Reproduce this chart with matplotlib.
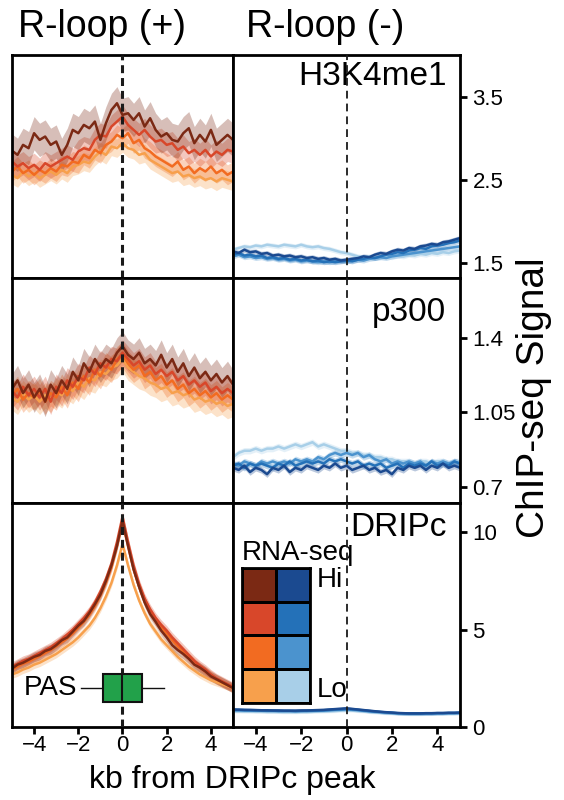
import numpy as np
import matplotlib.pyplot as plt
from matplotlib.colors import ListedColormap

plt.rcParams['font.family'] = ['Liberation Sans', 'DejaVu Sans']

# position relative to DRIPc peak (kb)
kb = np.linspace(-5, 5, 41)

levels = ['Hi', 'Lo']
pos_colors = ['#7b2914', '#d8472a', '#f26b21', '#f7a04c']   # RNA-seq Hi -> Lo
neg_colors = ['#1b4a90', '#2471b8', '#4b93ce', '#a8cfe8']

col_titles = ['R-loop (+)', 'R-loop (-)']
marks = ['H3K4me1', 'p300', 'DRIPc']
ylims = [(1.32, 4.0), (0.625, 1.68), (0, 11.5)]
yticks = [[1.5, 2.5, 3.5], [0.7, 1.05, 1.4], [0, 5, 10]]
ytick_labels = [['1.5', '2.5', '3.5'], ['0.7', '1.05', '1.4'], ['0', '5', '10']]
xticks = [-4, -2, 0, 2, 4]

# H3K4me1, R-loop (+)
h3_pos = [
    [2.85, 2.80, 2.92, 2.88, 3.06, 2.98, 3.02, 2.92, 2.96, 2.80, 2.92, 3.10, 3.06, 3.16, 3.12, 3.20, 2.98, 3.18, 3.34, 3.42, 3.28,
     3.30, 3.22, 3.30, 3.14, 3.24, 3.10, 3.02, 3.06, 2.98, 2.96, 3.06, 3.12, 2.94, 3.04, 2.96, 3.10, 2.92, 2.98, 3.04, 2.98],
    [2.72, 2.66, 2.70, 2.64, 2.68, 2.62, 2.70, 2.66, 2.70, 2.74, 2.78, 2.74, 2.84, 2.88, 2.86, 2.98, 3.04, 3.02, 3.14, 3.20, 3.26,
     3.16, 3.10, 3.04, 3.10, 3.02, 2.96, 2.98, 2.92, 2.94, 2.86, 2.90, 2.82, 2.86, 2.80, 2.86, 2.78, 2.84, 2.80, 2.86, 2.84],
    [2.60, 2.66, 2.58, 2.62, 2.56, 2.62, 2.58, 2.64, 2.60, 2.68, 2.66, 2.72, 2.70, 2.80, 2.76, 2.86, 2.82, 2.92, 2.96, 3.04, 3.00,
     3.06, 2.94, 2.98, 2.88, 2.84, 2.78, 2.74, 2.70, 2.66, 2.72, 2.62, 2.66, 2.58, 2.64, 2.60, 2.66, 2.58, 2.62, 2.56, 2.60],
    [2.56, 2.52, 2.60, 2.54, 2.58, 2.52, 2.56, 2.60, 2.56, 2.62, 2.58, 2.66, 2.68, 2.72, 2.70, 2.78, 2.84, 2.80, 2.90, 2.88, 2.94,
     2.88, 2.86, 2.80, 2.82, 2.74, 2.70, 2.66, 2.62, 2.58, 2.60, 2.54, 2.56, 2.52, 2.54, 2.50, 2.52, 2.48, 2.52, 2.50, 2.48],
]
# H3K4me1, R-loop (-)
h3_neg = [
    [1.64, 1.62, 1.66, 1.63, 1.64, 1.61, 1.62, 1.59, 1.60, 1.58, 1.59, 1.57, 1.58, 1.56, 1.57, 1.55, 1.56, 1.54, 1.55, 1.53, 1.54,
     1.55, 1.56, 1.58, 1.57, 1.60, 1.62, 1.61, 1.64, 1.66, 1.65, 1.68, 1.67, 1.70, 1.71, 1.73, 1.72, 1.75, 1.76, 1.78, 1.80],
    [1.60, 1.62, 1.59, 1.60, 1.58, 1.59, 1.56, 1.57, 1.55, 1.56, 1.54, 1.55, 1.53, 1.54, 1.52, 1.53, 1.51, 1.52, 1.51, 1.52, 1.53,
     1.52, 1.54, 1.55, 1.57, 1.56, 1.58, 1.60, 1.61, 1.63, 1.62, 1.65, 1.66, 1.68, 1.67, 1.70, 1.71, 1.72, 1.74, 1.75, 1.77],
    [1.58, 1.60, 1.57, 1.58, 1.56, 1.57, 1.55, 1.56, 1.54, 1.55, 1.53, 1.54, 1.52, 1.53, 1.52, 1.51, 1.52, 1.51, 1.52, 1.53, 1.52,
     1.53, 1.54, 1.53, 1.55, 1.56, 1.57, 1.56, 1.58, 1.59, 1.60, 1.61, 1.62, 1.63, 1.64, 1.65, 1.66, 1.67, 1.68, 1.69, 1.70],
    [1.66, 1.68, 1.70, 1.69, 1.71, 1.70, 1.72, 1.71, 1.70, 1.72, 1.71, 1.70, 1.72, 1.70, 1.69, 1.70, 1.68, 1.67, 1.65, 1.63, 1.62,
     1.60, 1.58, 1.57, 1.58, 1.56, 1.57, 1.58, 1.57, 1.59, 1.58, 1.60, 1.59, 1.61, 1.60, 1.62, 1.61, 1.63, 1.62, 1.64, 1.65],
]
# p300, R-loop (+)
p300_pos = [
    [1.16, 1.20, 1.14, 1.18, 1.12, 1.16, 1.10, 1.18, 1.14, 1.20, 1.16, 1.24, 1.20, 1.28, 1.24, 1.30, 1.26, 1.30, 1.28, 1.33, 1.36,
     1.32, 1.30, 1.33, 1.28, 1.30, 1.27, 1.32, 1.26, 1.30, 1.24, 1.28, 1.22, 1.26, 1.21, 1.24, 1.20, 1.23, 1.19, 1.22, 1.18],
    [1.15, 1.12, 1.17, 1.13, 1.16, 1.12, 1.16, 1.10, 1.17, 1.14, 1.20, 1.17, 1.22, 1.20, 1.26, 1.23, 1.28, 1.26, 1.30, 1.29, 1.33,
     1.30, 1.27, 1.29, 1.25, 1.27, 1.23, 1.25, 1.22, 1.24, 1.20, 1.22, 1.18, 1.20, 1.17, 1.19, 1.15, 1.17, 1.14, 1.16, 1.14],
    [1.13, 1.16, 1.11, 1.14, 1.12, 1.15, 1.10, 1.14, 1.12, 1.17, 1.13, 1.19, 1.16, 1.22, 1.19, 1.25, 1.22, 1.27, 1.25, 1.30, 1.32,
     1.28, 1.25, 1.27, 1.22, 1.24, 1.20, 1.22, 1.18, 1.20, 1.16, 1.18, 1.14, 1.16, 1.13, 1.15, 1.12, 1.14, 1.11, 1.13, 1.11],
    [1.12, 1.10, 1.14, 1.11, 1.13, 1.10, 1.13, 1.11, 1.15, 1.13, 1.17, 1.15, 1.19, 1.17, 1.21, 1.20, 1.24, 1.23, 1.26, 1.27, 1.30,
     1.26, 1.24, 1.22, 1.21, 1.19, 1.18, 1.16, 1.17, 1.14, 1.15, 1.13, 1.14, 1.11, 1.12, 1.10, 1.11, 1.09, 1.10, 1.08, 1.09],
]
# p300, R-loop (-)
p300_neg = [
    [0.79, 0.78, 0.80, 0.77, 0.79, 0.78, 0.76, 0.79, 0.78, 0.80, 0.77, 0.79, 0.78, 0.80, 0.79, 0.78, 0.80, 0.79, 0.81, 0.79, 0.80,
     0.78, 0.79, 0.80, 0.78, 0.79, 0.77, 0.78, 0.76, 0.79, 0.78, 0.80, 0.79, 0.80, 0.78, 0.80, 0.79, 0.81, 0.79, 0.80, 0.79],
    [0.80, 0.81, 0.79, 0.81, 0.80, 0.81, 0.80, 0.79, 0.81, 0.80, 0.82, 0.80, 0.81, 0.82, 0.81, 0.82, 0.81, 0.83, 0.82, 0.83, 0.82,
     0.81, 0.82, 0.80, 0.81, 0.80, 0.81, 0.79, 0.80, 0.81, 0.79, 0.81, 0.80, 0.81, 0.80, 0.82, 0.80, 0.81, 0.80, 0.82, 0.81],
    [0.81, 0.80, 0.82, 0.81, 0.80, 0.82, 0.81, 0.82, 0.81, 0.82, 0.81, 0.83, 0.82, 0.83, 0.82, 0.84, 0.83, 0.85, 0.86, 0.85, 0.86,
     0.85, 0.86, 0.84, 0.85, 0.83, 0.82, 0.83, 0.81, 0.82, 0.81, 0.82, 0.81, 0.82, 0.80, 0.82, 0.81, 0.82, 0.81, 0.82, 0.81],
    [0.84, 0.86, 0.87, 0.87, 0.88, 0.87, 0.88, 0.88, 0.89, 0.88, 0.89, 0.90, 0.89, 0.90, 0.91, 0.89, 0.90, 0.89, 0.88, 0.87, 0.87,
     0.86, 0.86, 0.85, 0.85, 0.84, 0.84, 0.83, 0.83, 0.82, 0.82, 0.82, 0.81, 0.82, 0.82, 0.81, 0.82, 0.82, 0.81, 0.82, 0.82],
]
# DRIPc, R-loop (+)
dripc_pos = [
    [3.00, 3.20, 3.30, 3.45, 3.60, 3.70, 3.90, 4.00, 4.20, 4.45, 4.60, 4.90, 5.20, 5.45, 5.85, 6.30, 6.80, 7.50, 8.30, 9.30, 10.6,
     9.30, 8.10, 7.20, 6.40, 5.80, 5.40, 4.95, 4.60, 4.20, 3.95, 3.75, 3.50, 3.20, 3.05, 2.85, 2.60, 2.45, 2.30, 2.15, 2.00],
    [3.10, 3.25, 3.40, 3.50, 3.65, 3.80, 3.95, 4.10, 4.30, 4.50, 4.75, 5.00, 5.30, 5.60, 5.95, 6.40, 6.95, 7.60, 8.40, 9.50, 10.8,
     9.50, 8.30, 7.35, 6.60, 6.05, 5.60, 5.25, 4.95, 4.60, 4.30, 4.00, 3.70, 3.40, 3.15, 2.95, 2.70, 2.50, 2.35, 2.20, 2.05],
    [2.95, 3.10, 3.25, 3.35, 3.50, 3.65, 3.80, 3.95, 4.15, 4.35, 4.55, 4.80, 5.10, 5.40, 5.75, 6.20, 6.75, 7.40, 8.20, 9.30, 10.5,
     9.30, 8.10, 7.20, 6.45, 5.90, 5.45, 5.10, 4.80, 4.45, 4.15, 3.85, 3.55, 3.30, 3.05, 2.85, 2.65, 2.45, 2.30, 2.15, 2.00],
    [2.70, 2.80, 2.95, 3.05, 3.20, 3.30, 3.45, 3.60, 3.75, 3.95, 4.15, 4.35, 4.60, 4.90, 5.20, 5.60, 6.10, 6.70, 7.40, 8.30, 9.40,
     8.30, 7.30, 6.50, 5.85, 5.30, 4.90, 4.50, 4.20, 3.90, 3.60, 3.35, 3.10, 2.90, 2.70, 2.55, 2.40, 2.30, 2.20, 2.10, 2.00],
]
# DRIPc, R-loop (-)
dripc_neg = [
    [0.90, 0.89, 0.88, 0.88, 0.87, 0.86, 0.86, 0.85, 0.85, 0.84, 0.84, 0.84, 0.85, 0.85, 0.86, 0.87, 0.88, 0.90, 0.92, 0.94, 0.96,
     0.93, 0.90, 0.87, 0.84, 0.81, 0.78, 0.76, 0.74, 0.72, 0.71, 0.70, 0.70, 0.70, 0.71, 0.71, 0.72, 0.72, 0.73, 0.73, 0.74],
    [0.88, 0.88, 0.87, 0.86, 0.86, 0.85, 0.84, 0.84, 0.83, 0.83, 0.83, 0.82, 0.83, 0.84, 0.84, 0.85, 0.86, 0.88, 0.90, 0.91, 0.93,
     0.91, 0.88, 0.85, 0.82, 0.79, 0.77, 0.75, 0.73, 0.71, 0.70, 0.69, 0.69, 0.69, 0.70, 0.70, 0.71, 0.71, 0.72, 0.72, 0.73],
    [0.85, 0.85, 0.84, 0.84, 0.83, 0.83, 0.82, 0.82, 0.81, 0.81, 0.81, 0.80, 0.81, 0.81, 0.82, 0.83, 0.84, 0.85, 0.87, 0.88, 0.90,
     0.88, 0.86, 0.83, 0.80, 0.78, 0.76, 0.74, 0.72, 0.70, 0.69, 0.68, 0.68, 0.68, 0.69, 0.69, 0.70, 0.70, 0.71, 0.71, 0.72],
    [0.80, 0.80, 0.79, 0.79, 0.78, 0.78, 0.77, 0.77, 0.77, 0.76, 0.76, 0.76, 0.77, 0.77, 0.78, 0.79, 0.80, 0.81, 0.82, 0.84, 0.85,
     0.84, 0.82, 0.80, 0.77, 0.75, 0.73, 0.71, 0.70, 0.68, 0.67, 0.66, 0.66, 0.66, 0.67, 0.67, 0.68, 0.68, 0.69, 0.69, 0.70],
]
# standard error per series (Hi -> Lo)
h3_pos_sem = [0.2, 0.14, 0.12, 0.11]
h3_neg_sem = [0.03, 0.03, 0.03, 0.03]
p300_pos_sem = [0.07, 0.06, 0.06, 0.06]
p300_neg_sem = [0.015, 0.015, 0.015, 0.015]
dripc_pos_sem = [0.25, 0.25, 0.25, 0.2]
dripc_neg_sem = [0.08, 0.08, 0.08, 0.08]

# PAS distance box (kb)
pas_stats = dict(med=0.0, q1=-0.9, q3=0.9, whislo=-1.9, whishi=1.9)
pas_y = 2.0

panels = [
    [(h3_pos, h3_pos_sem), (h3_neg, h3_neg_sem)],
    [(p300_pos, p300_pos_sem), (p300_neg, p300_neg_sem)],
    [(dripc_pos, dripc_pos_sem), (dripc_neg, dripc_neg_sem)],
]

fig = plt.figure(figsize=(5.64, 8), dpi=100)

col_x = [(12 / 564, 221 / 564), (233 / 564, 227 / 564)]
row_y = [(1 - 278 / 800, 223 / 800), (1 - 503 / 800, 225 / 800), (1 - 727 / 800, 224 / 800)]

axes = [[None, None] for _ in range(3)]
for r in range(3):
    for c in range(2):
        ax = fig.add_axes([col_x[c][0], row_y[r][0], col_x[c][1], row_y[r][1]])
        axes[r][c] = ax
        series, sem = panels[r][c]
        colors = pos_colors if c == 0 else neg_colors
        for i in reversed(range(4)):
            y = np.array(series[i])
            ax.fill_between(kb, y - sem[i], y + sem[i], color=colors[i], alpha=0.3, lw=0)
            ax.plot(kb, y, color=colors[i], lw=1.8)
        if c == 0:
            ax.axvline(0, color='#1a1a1a', lw=2.2, ls=(0, (2.6, 1.6)), zorder=5)
        else:
            ax.axvline(0, color='#1a1a1a', lw=1.3, ls=(0, (4.3, 2.8)), zorder=5)
        ax.set_xlim(-5, 5)
        ax.set_ylim(*ylims[r])
        for s in ax.spines.values():
            s.set_linewidth(2)
        if c == 1:
            ax.yaxis.tick_right()
            ax.set_yticks(yticks[r])
            ax.set_yticklabels(ytick_labels[r])
            ax.tick_params(axis='y', direction='out', length=5, width=2, pad=4, labelsize=16)
            ax.text(0.94, [0.905, 0.845, 0.89][r], marks[r], transform=ax.transAxes,
                    ha='right', va='center', fontsize=24)
        else:
            ax.set_yticks([])
        if r == 2:
            ax.set_xticks(xticks)
            ax.tick_params(axis='x', direction='out', length=5, width=2, pad=1, labelsize=16)
        else:
            ax.set_xticks([])

# PAS box
axp = axes[2][0]
bp = axp.bxp([pas_stats], positions=[pas_y], widths=1.4, vert=False, showcaps=False,
             showfliers=False, patch_artist=True,
             boxprops=dict(facecolor='#22a14a', edgecolor='#111111', lw=1.5),
             medianprops=dict(color='#111111', lw=1.5),
             whiskerprops=dict(color='#111111', lw=1.0), manage_ticks=False)
for b in bp['boxes']:
    b.set_zorder(6)
for m in bp['medians']:
    m.set_zorder(7)
axp.text(-2.05, pas_y, 'PAS', ha='right', va='center', fontsize=20)

# RNA-seq legend
axd = axes[2][1]
lax = axd.inset_axes([0.04, 0.107, 0.30, 0.603])
cells = np.array([[0, 4], [1, 5], [2, 6], [3, 7]])
lax.pcolormesh(cells, cmap=ListedColormap(pos_colors + neg_colors), edgecolors='k', linewidth=2)
lax.set_ylim(4, 0)
lax.set_xticks([])
lax.set_yticks([])
for s in lax.spines.values():
    s.set_linewidth(2)
axd.text(0.04, 0.777, 'RNA-seq', transform=axd.transAxes, ha='left', va='center', fontsize=20)
axd.text(0.37, 0.656, levels[0], transform=axd.transAxes, ha='left', va='center', fontsize=20)
axd.text(0.37, 0.165, levels[1], transform=axd.transAxes, ha='left', va='center', fontsize=20)

fig.text(102 / 564, 1 - 37 / 800, col_titles[0], ha='center', va='baseline', fontsize=27)
fig.text(325 / 564, 1 - 37 / 800, col_titles[1], ha='center', va='baseline', fontsize=27)
fig.text(232 / 564, 1 - 788 / 800, 'kb from DRIPc peak', ha='center', va='baseline', fontsize=23)
fig.text(534 / 564, 1 - 398 / 800, 'ChIP-seq Signal', ha='center', va='center', rotation=90, fontsize=28)

fig.savefig('out.png', dpi=100)
